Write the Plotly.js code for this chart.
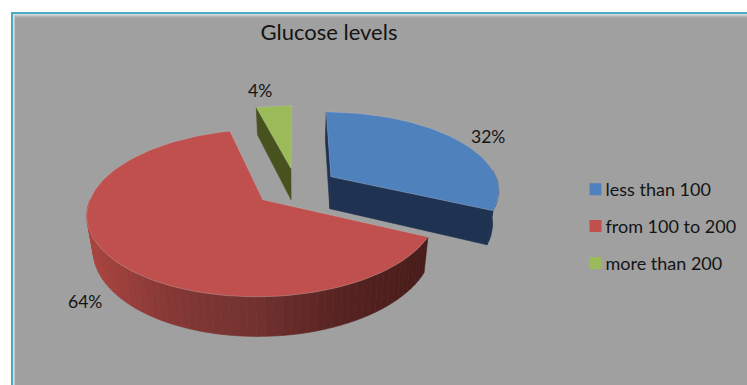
<!DOCTYPE html>
<html>
<head>
<meta charset="utf-8">
<script src="https://cdn.plot.ly/plotly-3.0.1.min.js"></script>
<style>html,body{margin:0;padding:0;background:#fff}#chart{width:747px;height:385px}</style>
</head>
<body>
<div id="chart"></div>
<script>
// Glucose level shares
const categories = ['less than 100', 'from 100 to 200', 'more than 200'];
const shares = [32, 64, 4];
const topColors = ['#4f81bd', '#c0504d', '#9bbb59'];
const wallColors = ['#1f3251', null, '#47521f'];
const chartTitle = 'Glucose levels';
const labelSpots = [[488, 136], [85, 301], [260, 90]];

// Perspective model of the tilted, exploded pie (all in pixel-scaled axis units)
const view = {cx: 296, cy: 187, rx: 168.5, ry: 77.7, tilt: 0.155, depth: 32.5, shrink: 0.97, explode: 0.25};

function project(X, Y, lower) {
  const w = 1 + view.tilt * Y;
  let sx = view.cx + view.rx * X / w;
  let sy = view.cy - view.ry * Y / w;
  if (lower) {
    sx = view.cx + (sx - view.cx) * view.shrink;
    sy += view.depth / w;
  }
  return [sx, sy];
}

// Sweep of each slice in degrees, clockwise from 12 o'clock
const total = shares.reduce((a, b) => a + b, 0);
let running = 0;
const slices = shares.map((v, i) => {
  const start = running / total * 360;
  running += v;
  const end = running / total * 360;
  const mid = (start + end) / 2 * Math.PI / 180;
  return {i, start, end, ox: Math.sin(mid) * view.explode, oy: Math.cos(mid) * view.explode};
});

function rim(s, deg, lower) {
  const a = deg * Math.PI / 180;
  return project(s.ox + Math.sin(a), s.oy + Math.cos(a), lower);
}
function apex(s, lower) { return project(s.ox, s.oy, lower); }

function polygon(points, color, edge) {
  return {
    type: 'scatter', mode: 'lines', hoverinfo: 'skip', showlegend: false,
    x: points.map(p => p[0]).concat(points[0][0]),
    y: points.map(p => p[1]).concat(points[0][1]),
    fill: 'toself', fillcolor: color,
    line: {color: edge || color, width: edge ? 1 : 0.6}
  };
}

// Shade of the red outer wall, darker toward the right
function redWall(x) {
  const stops = [[93, [170, 68, 64]], [170, [134, 56, 53]], [260, [112, 49, 47]], [340, [86, 35, 33]], [423, [72, 28, 26]]];
  let k = 0;
  while (k < stops.length - 2 && x > stops[k + 1][0]) k++;
  const [x0, c0] = stops[k], [x1, c1] = stops[k + 1];
  const t = Math.min(1, Math.max(0, (x - x0) / (x1 - x0)));
  return 'rgb(' + c0.map((c, j) => Math.round(c + (c1[j] - c) * t)).join(',') + ')';
}

const traces = [];
const [blue, red, green] = slices;

// Walls first, so the top faces sit over them
for (let d = red.start; d < 270; d += 2.5) {
  const e = Math.min(d + 2.5, 270);
  const a = rim(red, d, false), b = rim(red, e, false), c = rim(red, e, true), f = rim(red, d, true);
  traces.push(polygon([a, b, c, f], redWall((c[0] + f[0]) / 2)));
}
const blueRim = [];
for (let d = 85; d <= blue.end + 0.01; d += 3) blueRim.push(d);
blueRim.push(blue.end);
traces.push(polygon([apex(blue, false), rim(blue, 0, false), rim(blue, 0, true), apex(blue, true)], wallColors[0]));
traces.push(polygon(
  blueRim.map(d => rim(blue, d, false)).concat(blueRim.slice().reverse().map(d => rim(blue, d, true))),
  wallColors[0]));
traces.push(polygon([apex(blue, false), rim(blue, blue.end, false), rim(blue, blue.end, true), apex(blue, true)], wallColors[0]));
traces.push(polygon([apex(green, false), rim(green, green.start, false), rim(green, green.start, true), apex(green, true)], wallColors[2]));

// Top faces
slices.forEach(s => {
  const pts = [apex(s, false)];
  const n = Math.max(6, Math.round((s.end - s.start) / 2));
  for (let j = 0; j <= n; j++) pts.push(rim(s, s.start + (s.end - s.start) * j / n, false));
  traces.push(polygon(pts, topColors[s.i], 'rgba(205,205,205,0.25)'));
});

// Legend entries
categories.forEach((name, i) => traces.push({
  type: 'scatter', mode: 'markers', x: [null], y: [null], name, legendgroup: name,
  marker: {symbol: 'square', size: 12, color: topColors[i]}, hoverinfo: 'skip'
}));

// Panel: white page, cyan rule on top and left, light bevel fading into gray
function band(x0, y0, x1, y1, color) {
  return {type: 'rect', layer: 'below', xref: 'x', yref: 'y', x0, y0, x1, y1, fillcolor: color, line: {width: 0}};
}
const shapes = [
  band(11, 12, 747, 385, '#4bacc6'),
  band(13, 14, 747, 385, '#d9d9d9'),
  band(14, 15, 747, 385, '#c8c8c8'),
  band(15, 16, 747, 385, '#b6b6b6'),
  band(15, 17, 747, 385, '#a8a8a8'),
  band(15, 18, 747, 385, '#a0a0a0')
];

const annotations = shares.map((v, i) => ({
  x: labelSpots[i][0], y: labelSpots[i][1], xref: 'x', yref: 'y',
  text: v + '%', showarrow: false, font: {family: 'Lato, sans-serif', size: 17.5, color: '#141414'}
}));

const layout = {
  width: 747, height: 385,
  margin: {l: 0, r: 0, t: 0, b: 0},
  paper_bgcolor: '#ffffff', plot_bgcolor: 'rgba(0,0,0,0)',
  xaxis: {range: [0, 747], visible: false, fixedrange: true},
  yaxis: {range: [385, 0], visible: false, fixedrange: true},
  title: {text: chartTitle, x: 329 / 747, xanchor: 'center', y: 1 - 32 / 385, yanchor: 'middle',
          font: {family: 'Lato, sans-serif', size: 22, color: '#141414'}},
  showlegend: true,
  legend: {x: 565.5 / 747, xanchor: 'left', y: 1 - 171 / 385, yanchor: 'top', bgcolor: 'rgba(0,0,0,0)',
           tracegroupgap: 10.5, font: {family: 'Lato, sans-serif', size: 18, color: '#141414'}},
  shapes, annotations
};

Plotly.newPlot('chart', traces, layout, {displayModeBar: false, staticPlot: true}).then(() => {
  // Bring the legend swatches up close to their labels
  document.querySelectorAll('#chart .legend .legendsymbols').forEach(g => {
    g.setAttribute('transform', 'translate(10,0)');
  });
});
</script>
</body>
</html>
